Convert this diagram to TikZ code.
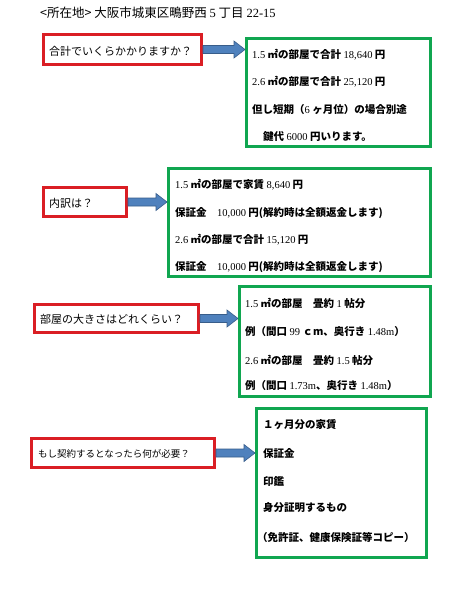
\documentclass[tikz,border=0pt]{standalone}
\usepackage{fontspec}
\setmainfont{Noto Sans CJK JP}
\newfontfamily\latfont{Liberation Serif}
\newcommand\dg[1]{{\latfont\mdseries #1}}
\definecolor{boxred}{RGB}{218,30,36}
\definecolor{boxgreen}{RGB}{16,166,80}
\definecolor{arrfill}{RGB}{79,129,189}
\definecolor{arrdraw}{RGB}{56,93,138}
\newcommand\blockarrow[2]{%
  \path let \p1=(#1.east), \p2=(#2.west) in
    [draw=arrdraw, fill=arrfill, line width=0.6pt, line join=miter]
    (\x1,\y1+4) -- (\x2-11,\y1+4) -- (\x2-11,\y1+8.5) -- (\x2,\y1)
    -- (\x2-11,\y1-8.5) -- (\x2-11,\y1-4) -- (\x1,\y1-4) -- cycle;}
\usetikzlibrary{calc}
\begin{document}
\begin{tikzpicture}[x=1pt,y=-1pt,
  redbox/.style={draw=boxred, line width=3pt, inner sep=0pt},
  greenbox/.style={draw=boxgreen, line width=3pt, inner sep=0pt},
  qtext/.style={anchor=west, inner sep=0pt, font=\fontsize{11}{13}\selectfont},
  atext/.style={anchor=west, inner sep=0pt, font=\fontsize{10.5}{13}\selectfont\bfseries},
  htext/.style={anchor=west, inner sep=0pt, font=\fontsize{12.5}{15}\selectfont}]
\useasboundingbox[fill=white] (0,0) rectangle (459,592);

% header
\node[htext] (head) at (40,13) {<所在地> 大阪市城東区鴫野西 \dg{5} 丁目 \dg{22-15}};

% question boxes
\node[redbox, minimum width=158pt, minimum height=30pt] (r1) at (122.5,49.5) {};
\node[redbox, minimum width=83pt, minimum height=29pt] (r2) at (85,202) {};
\node[redbox, minimum width=164pt, minimum height=28pt] (r3) at (116.5,318.5) {};
\node[redbox, minimum width=183pt, minimum height=29pt] (r4) at (123,453) {};

\node[qtext] (q1) at (49,51) {合計でいくらかかりますか？};
\node[qtext] (q2) at (49,203) {内訳は？};
\node[qtext] (q3) at (40,319) {部屋の大きさはどれくらい？};
\node[qtext, font=\fontsize{9.5}{12}\selectfont] (q4) at (38,454) {もし契約するとなったら何が必要？};

% answer boxes
\node[greenbox, minimum width=184pt, minimum height=108pt] (g1) at (338.5,92.5) {};
\node[greenbox, minimum width=262pt, minimum height=108pt] (g2) at (299.5,222.5) {};
\node[greenbox, minimum width=191pt, minimum height=110pt] (g3) at (335,341.5) {};
\node[greenbox, minimum width=170pt, minimum height=149pt] (g4) at (341.5,483) {};

% arrows
\blockarrow{r1}{g1}
\blockarrow{r2}{g2}
\blockarrow{r3}{g3}
\blockarrow{r4}{g4}

% answer texts
\node[atext] (a11) at (252,55) {\dg{1.5} ㎡の部屋で合計 \dg{18,640} 円};
\node[atext] (a12) at (252,82) {\dg{2.6} ㎡の部屋で合計 \dg{25,120} 円};
\node[atext] (a13) at (252,110) {但し短期（\dg{6} ヶ月位）の場合別途};
\node[atext] (a14) at (263,137) {鍵代 \dg{6000} 円いります。};

\node[atext] (a21) at (175,185) {\dg{1.5} ㎡の部屋で家賃 \dg{8,640} 円};
\node[atext] (a22) at (175,213) {保証金　\dg{10,000} 円(解約時は全額返金します)};
\node[atext] (a23) at (175,240) {\dg{2.6} ㎡の部屋で合計 \dg{15,120} 円};
\node[atext] (a24) at (175,267) {保証金　\dg{10,000} 円(解約時は全額返金します)};

\node[atext] (a31) at (245,303) {\dg{1.5} ㎡の部屋　畳約 \dg{1} 帖分};
\node[atext] (a32) at (245,332) {例（間口 \dg{99} ｃm、奥行き \dg{1.48m}）};
\node[atext] (a33) at (245,360) {\dg{2.6} ㎡の部屋　畳約 \dg{1.5} 帖分};
\node[atext] (a34) at (245,386) {例（間口 \dg{1.73m}、奥行き \dg{1.48m}）};

\node[atext] (a41) at (263,425) {１ヶ月分の家賃};
\node[atext] (a42) at (263,453) {保証金};
\node[atext] (a43) at (263,481) {印鑑};
\node[atext] (a44) at (263,508) {身分証明するもの};
\node[atext] (a45) at (257,537) {（免許証、健康保険証等コピー）};
\end{tikzpicture}
\end{document}
